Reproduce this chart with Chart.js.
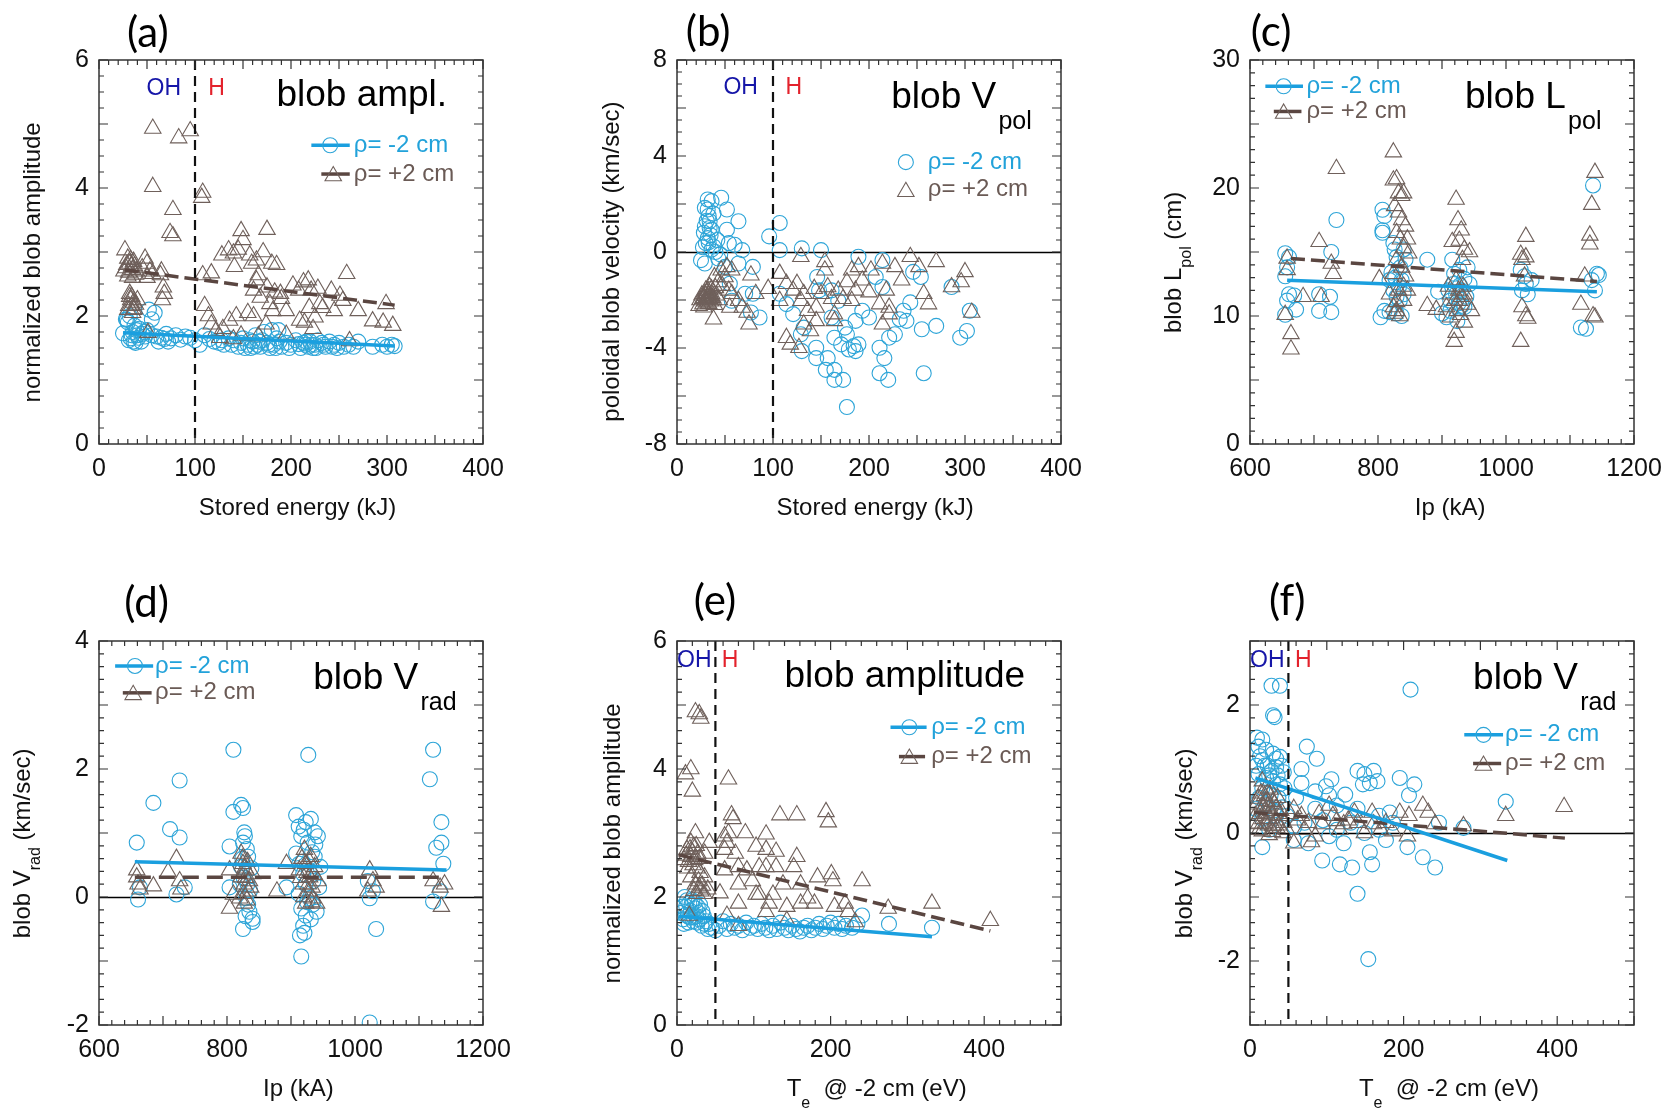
<!doctype html>
<html lang="en">
<head>
<meta charset="utf-8">
<title>Blob statistics</title>
<script src="https://cdn.jsdelivr.net/npm/chart.js"></script>
<style>
  html, body { margin: 0; padding: 0; background: #fff; }
  body { width: 1665px; height: 1111px; position: relative; overflow: hidden; }
  canvas { position: absolute; }
</style>
</head>
<body>
<canvas id="pa" width="519" height="544" style="left:4px;top:0px"></canvas>
<canvas id="pb" width="519" height="544" style="left:582px;top:0px"></canvas>
<canvas id="pc" width="519" height="544" style="left:1155px;top:0px"></canvas>
<canvas id="pd" width="519" height="544" style="left:4px;top:581px"></canvas>
<canvas id="pe" width="519" height="544" style="left:582px;top:581px"></canvas>
<canvas id="pf" width="519" height="544" style="left:1155px;top:581px"></canvas>
<script>
// ---- tick labels ----
const energyTicks = [0, 100, 200, 300, 400];
const ipTicks = [600, 800, 1000, 1200];
const teTicks = [0, 200, 400];
const amplTicks = [0, 2, 4, 6];
const vpolTicks = [-8, -4, 0, 4, 8];
const lpolTicks = [0, 10, 20, 30];
const vradTicksD = [-2, 0, 2, 4];
const vradTicksF = [-2, 0, 2];

// ---- (a) amplitude vs stored energy ----
const aMinus = [[25,1.73],[28,1.95],[29,1.94],[30,1.9],[32,2.0],[33,1.65],[35,1.75],[36,1.6],[37,1.85],[40,1.7],[42,1.8],
  [45,1.72],[48,1.68],[50,1.78],[52,2.1],[55,1.95],[58,2.05],[55,1.7],[60,1.68],[65,1.66],[70,1.72],[75,1.65],
  [80,1.7],[85,1.63],[90,1.68],[95,1.66],[100,1.62],[105,1.55],[110,1.7],[115,1.64],[120,1.6],[125,1.58],
  [130,1.55],[135,1.65],[140,1.62],[145,1.52],[148,1.58],[150,1.65],[155,1.55],[158,1.5],[160,1.6],[163,1.7],
  [165,1.55],[168,1.52],[170,1.62],[172,1.75],[175,1.58],[178,1.5],[180,1.78],[182,1.55],[185,1.65],[187,1.78],[188,1.6],
  [190,1.52],[195,1.58],[200,1.55],[205,1.62],[210,1.5],[213,1.58],[215,1.55],[218,1.52],[220,1.6],[223,1.5],
  [225,1.55],[228,1.62],[232,1.58],[236,1.52],[240,1.6],[245,1.55],[250,1.58],[255,1.52],[260,1.55],[265,1.52],
  [270,1.6],[285,1.52],[295,1.55],[300,1.52],[305,1.55],[308,1.53],
  [31,1.62],[34,1.7],[38,1.58],[39,1.78],[41,1.66],[44,1.6],[47,1.75],[62,1.6],[68,1.64],[72,1.6],
  [128,1.62],[138,1.55],[152,1.5],[157,1.62],[162,1.52],[167,1.6],[177,1.55],[184,1.5],[198,1.5],[208,1.56],
  [216,1.6],[221,1.55],[226,1.5],[234,1.55],[243,1.52],[248,1.5]];
const aPlus = [[56,4.93],[95,4.89],[83,4.78],[56,4.02],[108,3.93],[107,3.85],[77,3.66],[74,3.3],[77,3.25],[148,3.33],[175,3.35],
  [27,3.03],[30,2.9],[32,2.82],[34,2.78],[36,2.85],[29,2.8],[26,2.7],[31,2.68],[35,2.72],[38,2.65],
  [48,2.9],[50,2.82],[53,2.7],[56,2.66],[64,2.64],[65,2.7],[66,2.25],[67,2.45],[68,2.35],[50,2.6],[45,2.75],
  [32,2.35],[36,2.21],[34,2.16],[37,2.11],[31,2.16],[33,2.25],[35,2.05],[51,1.74],
  [108,2.64],[117,2.67],[128,2.95],[135,3.03],[140,2.98],[145,3.04],[141,2.77],[150,3.19],[157,2.95],[159,2.82],
  [164,2.87],[171,3.0],[180,2.82],[185,2.8],[164,2.56],[161,2.4],[166,2.64],[168,2.29],[175,2.45],[178,2.19],
  [183,2.37],[190,2.27],[195,2.08],[202,2.48],[208,2.4],[213,2.53],[218,2.56],[221,2.4],[228,2.43],[233,2.13],
  [242,2.4],[245,2.08],[258,2.66],[251,2.32],[254,2.24],[270,2.08],[285,1.92],[296,1.9],[299,2.19],[306,1.85],[261,1.61],
  [110,2.16],[114,2.0],[117,1.87],[122,1.77],[129,1.8],[136,1.93],[143,2.0],[148,1.7],[155,2.05],[161,2.0],
  [166,1.69],[174,1.87],[181,2.08],[189,2.35],[195,1.71],[209,1.93],[214,1.9],[219,2.13],[225,1.98],[230,2.19],
  [223,1.8],[126,1.66],[140,1.64],
  [28,2.75],[30,2.62],[33,2.88],[35,2.6],[37,2.78],[39,2.7],[32,2.3],[34,2.3],[36,2.1],[38,2.18],[30,2.1],[40,2.25]];
const aMinusFit = [[25,1.74],[308,1.53]];
const aPlusFit = [[27,2.72],[308,2.17]];

// ---- (b) poloidal velocity vs stored energy ----
const bMinus = [[32,2.19],[36,2.12],[46,2.26],[29,1.84],[32,1.77],[52,1.77],[34,1.28],[29,1.07],[36,0.93],[52,0.93],
  [64,1.28],[32,0.58],[30,0.37],[38,0.23],[54,0.37],[68,0.08],[25,-0.34],[29,-0.48],[43,-0.27],[50,-0.62],
  [64,-0.48],[79,-0.62],[55,-1.32],[57,-2.03],[71,-1.74],[79,-1.74],[86,-2.73],[77,-2.52],[96,0.65],[107,1.21],
  [107,0.08],[130,0.15],[150,0.08],[189,-0.2],[214,-0.34],[246,-0.83],[254,-1.04],[286,-1.46],[305,-2.45],[302,-3.29],
  [295,-3.57],[270,-3.08],[255,-3.22],[257,-5.05],[243,-2.1],[232,-2.8],[227,-3.43],[221,-3.57],[211,-3.99],[216,-4.42],
  [211,-5.05],[220,-5.33],[200,-2.73],[177,-6.46],[173,-5.33],[164,-5.33],[164,-4.91],[155,-4.91],[157,-4.42],[145,-4.42],
  [145,-3.99],[130,-4.13],[129,-3.43],[132,-3.15],[121,-2.59],[114,-2.17],[146,-1.04],[148,-1.6],[161,-2.73],[164,-3.57],
  [171,-3.85],[179,-4.06],[184,-3.92],[186,-4.13],[177,-3.43],[186,-2.87],[193,-2.45],[207,-1.04],[214,-1.46],[236,-2.45],
  [239,-2.87],[161,-1.6],[168,-2.03],[175,-3.15],[189,-3.85],[107,-1.74],[33,1.5],[35,0.7],[40,0.0],[45,-0.1],[60,0.3],
  [31,1.3],[34,1.0],[33,0.4],[36,0.1],[28,0.8],[38,1.6],[42,0.5],[27,0.2]];
const bPlus = [[29,-1.74],[30,-1.6],[32,-1.88],[34,-1.46],[36,-1.74],[27,-2.17],[23,-2.24],[32,-2.1],[38,-2.8],[39,-1.04],
  [43,-1.25],[46,-0.76],[50,-1.04],[54,-1.6],[57,-1.74],[57,-0.76],[52,-0.62],[64,-2.03],[55,-2.31],[68,-2.31],
  [73,-2.52],[77,-0.97],[82,-1.74],[75,-3.01],[95,-1.53],[107,-0.9],[107,-2.03],[114,-1.32],[121,-1.6],[129,-0.2],
  [125,-1.32],[129,-2.03],[132,-1.74],[136,-2.45],[132,-3.01],[139,-3.29],[143,-1.53],[150,-1.74],[145,-2.31],[154,-0.41],
  [154,-0.76],[157,-1.46],[161,-1.95],[164,-2.59],[168,-1.6],[173,-1.95],[177,-1.25],[182,-0.76],[186,-1.6],[189,-0.62],
  [193,-1.18],[202,-0.76],[200,-1.67],[211,-2.17],[214,-0.48],[218,-1.6],[221,-2.31],[227,-0.62],[234,-1.18],[243,-0.2],
  [252,-0.62],[257,-1.74],[262,-2.17],[270,-0.41],[286,-1.46],[300,-0.83],[296,-1.25],[307,-2.52],[114,-3.57],[118,-3.85],
  [127,-3.99],[145,-2.87],[164,-2.87],[182,-2.03],[214,-3.01],[221,-2.59],[28,-1.9],[31,-2.0],[33,-1.8],[35,-2.05],
  [30,-1.95],[37,-1.9],[26,-1.8],[40,-1.5],
  [29,-2.05],[31,-1.7],[33,-2.15],[34,-1.95],[36,-1.55],[38,-2.0],[27,-1.95],[30,-1.82],[32,-1.62],[35,-1.85],
  [28,-2.3],[41,-1.8],[44,-2.0],[47,-1.4],[24,-2.0],[39,-2.2]];

// ---- (c) poloidal size vs plasma current ----
const cMinus = [[655,14.9],[661,14.6],[658,13.8],[655,13.1],[661,11.7],[658,11.2],[655,10.1],[672,10.5],[669,11.6],[708,11.7],
  [725,11.5],[708,10.4],[727,10.3],[727,15.0],[735,17.5],[807,18.3],[807,16.7],[810,17.8],[807,16.5],[804,9.9],
  [810,10.4],[818,10.3],[824,15.7],[826,15.2],[829,14.6],[840,15.2],[835,13.8],[837,12.8],[818,12.8],[824,12.0],
  [829,11.5],[834,11.2],[840,11.7],[829,10.2],[837,10.0],[821,13.4],[843,14.4],[877,14.4],[894,11.9],[900,10.2],
  [907,9.9],[913,10.4],[916,14.4],[919,13.3],[927,13.6],[935,12.9],[913,11.2],[922,11.7],[930,12.0],[938,11.5],
  [943,12.5],[935,10.7],[924,9.6],[910,12.0],[940,13.8],[1023,13.6],[1029,13.1],[1031,12.5],[1025,12.0],[1034,11.7],
  [1040,12.8],[1117,9.1],[1125,9.0],[1136,20.2],[1142,13.3],[1134,12.8],[1139,12.0],[1145,13.2],
  [926,11.0],[931,10.8],[918,12.5],[928,12.4],[833,12.3],[827,13.0]];
const cPlus = [[658,14.5],[658,13.6],[655,10.1],[664,8.6],[664,7.4],[683,11.5],[708,15.8],[711,11.5],[727,14.1],[730,13.3],
  [735,21.5],[824,22.8],[824,20.6],[829,20.7],[832,19.6],[837,19.4],[826,18.6],[832,18.1],[837,17.5],[843,17.0],
  [829,16.5],[835,16.0],[840,15.3],[829,14.4],[837,13.8],[824,13.3],[802,12.9],[818,11.7],[824,10.7],[829,11.1],
  [829,10.4],[840,11.2],[832,12.0],[840,12.3],[846,12.0],[843,13.1],[848,14.9],[846,16.0],[840,19.6],[877,10.8],
  [891,10.5],[922,19.1],[925,17.5],[930,16.7],[927,15.9],[916,15.8],[935,15.2],[943,15.0],[932,14.4],[922,12.8],
  [910,12.3],[913,11.7],[927,11.2],[935,11.7],[940,10.9],[946,10.4],[907,10.7],[913,9.9],[922,8.7],[919,8.0],
  [935,9.5],[1031,16.2],[1023,14.8],[1025,14.4],[1031,14.6],[1029,13.1],[1025,10.7],[1031,10.0],[1034,9.8],[1023,8.0],
  [1117,10.9],[1123,13.1],[1131,15.6],[1131,16.3],[1134,18.7],[1139,21.2],[1136,10.0],[1139,9.9],
  [926,12.0],[930,11.5],[920,11.2],[933,12.3],[924,10.4],[929,10.1],[834,10.0],[826,10.2]];
const cMinusFit = [[658,12.8],[1142,11.9]];
const cPlusFit = [[664,14.5],[1142,12.7]];

// ---- (d) radial velocity vs plasma current ----
const dMinus = [[659,0.85],[661,-0.04],[664,0.15],[685,1.47],[711,1.06],[726,0.93],[726,1.82],[721,0.04],[734,0.15],[810,2.3],
  [810,1.33],[804,0.79],[822,1.44],[825,1.39],[827,1.01],[825,0.85],[833,0.63],[822,0.47],[820,0.2],[830,-0.02],
  [835,-0.23],[840,-0.34],[825,-0.5],[833,-0.12],[840,-0.39],[804,0.15],[893,0.15],[908,1.28],[916,0.95],[923,1.17],
  [931,1.22],[937,1.01],[942,0.95],[927,2.22],[908,0.68],[913,0.52],[919,0.36],[923,0.2],[929,-0.02],[916,-0.18],
  [919,-0.45],[921,-0.56],[916,-0.93],[934,-0.12],[940,-0.23],[923,-0.29],[937,0.63],[946,0.47],[1023,-1.96],[1033,-0.5],
  [1023,-0.02],[1028,0.09],[1020,0.25],[1122,2.3],[1117,1.84],[1135,1.17],[1135,0.85],[1127,0.77],[1138,0.52],[1122,-0.07],
  [1133,0.09],
  [828,0.95],[831,0.75],[826,0.3],[836,0.1],[829,-0.3],[838,0.45],[824,0.6],[832,0.2],
  [912,1.1],[926,0.85],[933,0.7],[918,0.55],[928,0.4],[935,0.25],[912,0.05],[925,-0.08],[931,-0.35],[914,-0.6],
  [938,0.82],[944,0.15],[920,1.05]];
const dPlus = [[659,0.42],[659,0.31],[661,0.2],[664,0.12],[685,0.17],[708,0.39],[721,0.6],[726,0.25],[728,0.12],[804,0.42],
  [804,-0.18],[810,0.04],[822,0.68],[825,0.52],[830,0.42],[822,0.31],[827,0.2],[833,0.09],[820,-0.02],[827,-0.1],
  [840,0.36],[837,0.15],[878,0.09],[893,0.52],[913,0.42],[921,0.74],[923,0.52],[931,0.63],[937,0.47],[929,0.31],
  [919,0.2],[927,0.09],[934,-0.02],[923,-0.1],[940,-0.1],[942,0.25],[1023,0.42],[1028,0.25],[1020,0.09],[1033,0.15],
  [1122,0.25],[1133,0.15],[1140,0.2],[1135,-0.15],
  [824,0.6],[829,0.3],[832,0.55],[826,0.05],[835,0.25],[828,0.45],[831,-0.05],
  [917,0.6],[925,0.38],[933,0.15],[920,0.0],[929,0.55],[936,0.35],[915,0.3],[927,0.2],[932,-0.08]];
const dMinusFit = [[656,0.55],[1143,0.42]];
const dPlusFit = [[656,0.31],[1143,0.31]];

// ---- (e) amplitude vs Te ----
const eMinus = [[5,1.75],[8,1.65],[10,2.0],[12,1.85],[14,1.7],[16,1.9],[18,1.78],[20,1.95],[22,1.68],[24,1.82],
  [26,1.6],[28,1.75],[30,1.88],[32,1.55],[35,1.7],[38,1.62],[40,1.5],[42,1.58],[45,1.52],[50,1.48],
  [55,1.55],[60,1.62],[65,1.5],[70,1.58],[75,1.52],[80,1.55],[85,1.48],[90,1.6],[95,1.52],[100,1.55],
  [105,1.5],[110,1.58],[115,1.52],[120,1.48],[125,1.55],[130,1.5],[135,1.6],[140,1.52],[145,1.48],[150,1.55],
  [155,1.5],[160,1.46],[165,1.52],[170,1.55],[175,1.48],[180,1.52],[185,1.58],[190,1.5],[195,1.55],[200,1.6],
  [205,1.52],[210,1.58],[215,1.5],[220,1.55],[228,1.52],[235,1.58],[241,1.71],[276,1.58],[332,1.52],
  [7,1.85],[11,1.72],[15,1.6],[19,1.88],[21,1.62],[23,1.92],[25,1.7],[27,1.85],[29,1.65],[33,1.78],
  [36,1.58],[13,1.95],[17,1.68],[9,1.58]];
const ePlus = [[24,4.89],[29,4.86],[31,4.79],[11,3.92],[18,4.0],[20,3.65],[67,3.84],[71,3.28],[73,3.22],[134,3.28],
  [156,3.28],[194,3.33],[197,3.17],[24,3.0],[18,2.85],[22,2.79],[13,2.74],[27,2.68],[18,2.63],[9,2.58],
  [29,2.6],[36,2.68],[42,2.85],[62,2.95],[67,3.0],[65,2.85],[89,3.0],[103,2.79],[116,2.98],[116,2.74],
  [129,2.71],[156,2.63],[62,2.74],[76,2.68],[62,2.42],[80,2.47],[91,2.42],[107,2.47],[116,2.47],[129,2.47],
  [152,2.47],[80,2.2],[98,2.25],[107,2.04],[125,2.04],[138,2.2],[161,2.2],[183,2.31],[201,2.36],[203,2.25],
  [241,2.25],[18,2.31],[24,2.2],[29,2.15],[36,2.31],[40,2.12],[31,2.09],[56,2.06],[103,2.04],[80,1.9],
  [120,1.9],[143,1.85],[161,1.9],[170,1.98],[179,1.9],[205,1.85],[219,1.9],[223,1.77],[232,1.61],[275,1.82],
  [332,1.9],[408,1.63],[16,1.71],[65,1.71],[80,1.55],[143,1.63],[116,1.77],
  [12,2.65],[15,2.55],[17,2.75],[20,2.7],[23,2.58],[25,2.8],[14,2.45],[21,2.5],[26,2.45],[30,2.38],
  [28,2.25],[33,2.18],[26,2.05],[35,2.05],[22,2.1]];
const eMinusFit = [[2,1.7],[332,1.38]];
const ePlusFit = [[2,2.66],[408,1.47]];

// ---- (f) radial velocity vs Te ----
const fMinus = [[28,2.3],[39,2.3],[30,1.84],[32,1.81],[9,1.49],[16,1.46],[11,1.35],[21,1.3],[30,1.24],[34,1.16],
  [39,1.19],[16,1.14],[23,1.05],[28,0.97],[34,1.03],[41,1.05],[11,0.92],[21,0.86],[30,0.81],[39,0.76],
  [16,0.7],[74,1.35],[87,1.16],[67,1.0],[67,0.78],[99,0.73],[106,0.84],[103,0.59],[140,0.97],[147,0.76],
  [149,0.92],[161,0.97],[166,0.81],[156,0.78],[195,0.86],[214,0.76],[207,0.59],[209,2.24],[333,0.49],[278,0.08],
  [85,0.38],[113,0.43],[140,0.38],[168,0.27],[182,0.32],[7,0.38],[16,0.22],[25,0.05],[34,0.27],[57,-0.11],
  [76,-0.16],[94,-0.43],[117,-0.49],[133,-0.54],[159,-0.49],[156,-0.3],[177,-0.11],[205,-0.22],[225,-0.38],[241,-0.54],
  [140,-0.95],[154,-1.97],[16,-0.22],[103,-0.05],[122,-0.16],[149,0.0],[168,0.05],[186,0.16],[131,0.16],[113,0.05],
  [71,0.16],[48,0.27],[246,0.16],
  [13,1.2],[19,1.05],[25,0.9],[36,0.9],[44,0.95],[8,1.05],[27,0.6],[37,0.55],[12,0.55],[45,0.7],
  [20,0.45],[31,0.35],[42,0.4],[60,0.55],[85,0.65],[95,0.2],[124,0.6],[58,0.1]];
const fPlus = [[16,0.81],[21,0.7],[25,0.59],[11,0.54],[16,0.43],[30,0.49],[34,0.38],[21,0.32],[7,0.27],[25,0.22],
  [39,0.27],[11,0.14],[30,0.11],[16,0.03],[25,-0.03],[44,0.16],[57,0.38],[67,0.27],[76,0.16],[57,-0.16],
  [80,-0.14],[85,-0.05],[103,0.43],[108,0.27],[122,0.14],[136,0.32],[140,0.16],[159,0.32],[161,0.14],[177,0.16],
  [186,0.03],[195,0.32],[207,0.27],[205,-0.05],[225,0.43],[232,0.32],[241,0.14],[278,0.11],[333,0.27],[409,0.41],
  [94,0.14],[117,0.05],[149,0.0],[71,0.05],[48,0.05],[113,0.19],[18,0.4],[22,0.5],[27,0.35],[13,0.3],
  [33,0.2],[20,0.15],[9,0.45],[36,0.55],
  [14,0.62],[19,0.58],[23,0.42],[28,0.28],[32,0.45],[17,0.22],[24,0.12],[29,0.02],[35,0.08],[40,0.35],
  [12,0.05],[6,0.15],[43,0.0],[26,0.68],[38,0.12],[62,0.2],[90,0.3],[128,0.2],[170,0.05],[52,0.3]];
const fMinusFit = [[7,0.86],[335,-0.43]];
const fPlusFit = [[5,0.32],[410,-0.08]];

// ---- styling ----
const FONT = "'Liberation Sans', Arial, sans-serif";
const CYAN = '#2ea5d8';
const CYAN_LINE = '#1a9fdf';
const BROWN = '#6f605b';
const BROWN_LINE = '#5a4641';
const OH_BLUE = '#1616a8';
const H_RED = '#e3222c';

Chart.defaults.font.family = FONT;

const toPts = arr => arr.map(([x, y]) => ({x, y}));

function partsWidth(ctx, parts) {
  let w = 0;
  for (const p of parts) {
    ctx.font = p[1] + 'px ' + FONT;
    w += ctx.measureText(p[0]).width;
  }
  return w;
}

function drawParts(ctx, parts, x, y, color) {
  let cx = x;
  for (const p of parts) {
    ctx.font = p[1] + 'px ' + FONT;
    ctx.fillStyle = color || '#000';
    ctx.fillText(p[0], cx, y + p[2]);
    cx += ctx.measureText(p[0]).width;
  }
}

function drawTri(ctx, x, y, r) {
  ctx.beginPath();
  ctx.moveTo(x, y - r);
  ctx.lineTo(x + r * Math.sin(2 * Math.PI / 3), y - r * Math.cos(2 * Math.PI / 3));
  ctx.lineTo(x + r * Math.sin(4 * Math.PI / 3), y - r * Math.cos(4 * Math.PI / 3));
  ctx.closePath();
  ctx.stroke();
}

function tickValues(min, max, step) {
  const n = Math.round((max - min) / step);
  const out = [];
  for (let i = 0; i <= n; i++) out.push(min + i * step);
  return out;
}

const deco = {
  id: 'deco',
  beforeDatasetsDraw(chart, args, o) {
    const {ctx, chartArea: a, scales: {x, y}} = chart;
    if (o.zero) {
      const py = Math.round(y.getPixelForValue(0)) + 0.5;
      ctx.save();
      ctx.strokeStyle = '#000';
      ctx.lineWidth = 1.3;
      ctx.beginPath();
      ctx.moveTo(a.left, py);
      ctx.lineTo(a.right, py);
      ctx.stroke();
      ctx.restore();
    }
  },
  afterDatasetsDraw(chart, args, o) {
    const {ctx, chartArea: a, scales: {x, y}} = chart;
    const W = a.width, H = a.height;
    ctx.save();

    // OH / H boundary
    if (o.boundary != null) {
      const px = x.getPixelForValue(o.boundary);
      ctx.strokeStyle = '#111';
      ctx.lineWidth = 2.2;
      ctx.setLineDash([10, 6]);
      ctx.beginPath();
      ctx.moveTo(px, a.top);
      ctx.lineTo(px, a.bottom);
      ctx.stroke();
      ctx.setLineDash([]);
    }

    // frame and inward ticks
    ctx.strokeStyle = '#333';
    ctx.lineWidth = 1.5;
    ctx.strokeRect(a.left, a.top, W, H);
    ctx.lineWidth = 1.2;
    ctx.beginPath();
    for (const v of tickValues(x.min, x.max, o.xMinor)) {
      const px = x.getPixelForValue(v);
      const major = Math.abs(v / o.xMajor - Math.round(v / o.xMajor)) < 1e-6;
      const len = major ? 9 : 5;
      ctx.moveTo(px, a.bottom); ctx.lineTo(px, a.bottom - len);
      ctx.moveTo(px, a.top); ctx.lineTo(px, a.top + len);
    }
    for (const v of tickValues(y.min, y.max, o.yMinor)) {
      const py = y.getPixelForValue(v);
      const major = Math.abs(v / o.yMajor - Math.round(v / o.yMajor)) < 1e-6;
      const len = major ? 9 : 5;
      ctx.moveTo(a.left, py); ctx.lineTo(a.left + len, py);
      ctx.moveTo(a.right, py); ctx.lineTo(a.right - len, py);
    }
    ctx.stroke();

    // panel letter
    ctx.textBaseline = 'middle';
    ctx.textAlign = 'center';
    ctx.fillStyle = '#000';
    ctx.font = "42px Lato, 'Open Sans', sans-serif";
    ctx.fillText(o.label[0], a.left + o.label[1] * W, a.top + o.label[2] * H);

    // OH / H tags
    ctx.textAlign = 'left';
    ctx.textBaseline = 'alphabetic';
    if (o.oh) {
      ctx.font = '23px ' + FONT;
      ctx.fillStyle = OH_BLUE;
      ctx.fillText('OH', a.left + o.oh[0] * W, a.top + o.oh[2] * H);
      ctx.fillStyle = H_RED;
      ctx.fillText('H', a.left + o.oh[1] * W, a.top + o.oh[2] * H);
    }

    // in-plot title
    drawParts(ctx, o.title.parts, a.left + o.title.fx * W, a.top + o.title.fy * H, '#000');

    // legend
    ctx.textBaseline = 'middle';
    o.legend.forEach((r, i) => {
      const ly = a.top + r.fy * H;
      const isMinus = i === 0;
      if (r.x0 != null) {
        ctx.strokeStyle = isMinus ? CYAN_LINE : BROWN_LINE;
        ctx.lineWidth = 3.5;
        ctx.beginPath();
        ctx.moveTo(a.left + r.x0 * W, ly);
        ctx.lineTo(a.left + r.x1 * W, ly);
        ctx.stroke();
      }
      ctx.lineWidth = 1.1;
      if (isMinus) {
        ctx.strokeStyle = CYAN;
        ctx.beginPath();
        ctx.arc(a.left + r.mx * W, ly, 7.5, 0, Math.PI * 2);
        ctx.stroke();
      } else {
        ctx.strokeStyle = BROWN;
        drawTri(ctx, a.left + r.mx * W, ly + 2, 9.5);
      }
      ctx.font = '24px ' + FONT;
      ctx.fillStyle = isMinus ? '#22a2da' : '#6a5a55';
      ctx.fillText(isMinus ? '\u03c1= -2 cm' : '\u03c1= +2 cm', a.left + r.tx * W, ly);
    });

    // axis titles
    ctx.textBaseline = 'middle';
    const xw = partsWidth(ctx, o.xTitle);
    drawParts(ctx, o.xTitle, a.left + o.xTitleFx * W - xw / 2, a.bottom + 64, '#111');
    ctx.save();
    ctx.translate(a.left - o.yTitleOff, a.top + o.yTitleFy * H);
    ctx.rotate(-Math.PI / 2);
    const yw = partsWidth(ctx, o.yTitle);
    drawParts(ctx, o.yTitle, -yw / 2, 0, '#111');
    ctx.restore();

    ctx.restore();
  }
};

function makePanel(id, c) {
  const tickFont = {family: FONT, size: 25};
  new Chart(document.getElementById(id), {
    type: 'scatter',
    data: {
      datasets: [
        {data: toPts(c.minusFit || []), showLine: true, pointRadius: 0, borderColor: CYAN_LINE, borderWidth: 3.5},
        {data: toPts(c.plusFit || []), showLine: true, pointRadius: 0, borderColor: BROWN_LINE, borderWidth: 3.5, borderDash: c.dash || [14, 6]},
        {data: toPts(c.plus), pointStyle: 'triangle', pointRadius: 9.5, borderColor: BROWN, backgroundColor: 'rgba(0,0,0,0)', borderWidth: 1.1},
        {data: toPts(c.minus), pointStyle: 'circle', pointRadius: 7.5, borderColor: CYAN, backgroundColor: 'rgba(0,0,0,0)', borderWidth: 1.1}
      ]
    },
    options: {
      responsive: false,
      animation: false,
      devicePixelRatio: 1,
      layout: {padding: {top: 60, right: 40, left: 0, bottom: 20}},
      plugins: {
        legend: {display: false},
        tooltip: {enabled: false},
        deco: c.deco
      },
      scales: {
        x: {
          type: 'linear', min: c.xRange[0], max: c.xRange[1],
          grid: {display: false, drawTicks: false}, border: {display: false},
          ticks: {font: tickFont, color: '#111', padding: 10, maxRotation: 0, callback: v => String(v)},
          afterBuildTicks: s => { s.ticks = c.xTicks.map(v => ({value: v})); },
          afterFit: s => { s.height = 80; }
        },
        y: {
          type: 'linear', min: c.yRange[0], max: c.yRange[1],
          grid: {display: false, drawTicks: false}, border: {display: false},
          ticks: {font: tickFont, color: '#111', padding: 10, callback: v => String(v)},
          afterBuildTicks: s => { s.ticks = c.yTicks.map(v => ({value: v})); },
          afterFit: s => { s.width = 95; }
        }
      }
    },
    plugins: [deco]
  });
}

const amplTitle = [['normalized blob amplitude', 24, 0]];
const energyTitle = [['Stored energy (kJ)', 24, 0]];
const ipTitle = [['Ip (kA)', 24, 0]];
const teTitle = [['T', 24, 0], ['e', 16, 15], ['  @ -2 cm (eV)', 24, 0]];
const vradTitle = [['blob V', 24, 0], ['rad', 16, 13], [' (km/sec)', 24, 0]];

makePanel('pa', {
  xRange: [0, 400], yRange: [0, 6], xTicks: energyTicks, yTicks: amplTicks,
  minus: aMinus, plus: aPlus, minusFit: aMinusFit, plusFit: aPlusFit,
  deco: {
    xMinor: 10, xMajor: 50, yMinor: 0.25, yMajor: 1, boundary: 100,
    label: ['(a)', 0.127, -0.069], oh: [0.124, 0.2845, 0.0905],
    title: {fx: 0.462, fy: 0.1186, parts: [['blob ampl.', 37, 0]]},
    legend: [{fy: 0.222, x0: 0.553, x1: 0.653, mx: 0.602, tx: 0.6635},
             {fy: 0.297, x0: 0.579, x1: 0.653, mx: 0.61, tx: 0.6635}],
    yTitle: amplTitle, yTitleOff: 66, yTitleFy: 0.527,
    xTitle: energyTitle, xTitleFx: 0.517
  }
});

makePanel('pb', {
  xRange: [0, 400], yRange: [-8, 8], xTicks: energyTicks, yTicks: vpolTicks,
  minus: bMinus, plus: bPlus,
  deco: {
    xMinor: 10, xMajor: 50, yMinor: 0.5, yMajor: 2, boundary: 100, zero: true,
    label: ['(b)', 0.081, -0.071], oh: [0.121, 0.2825, 0.088],
    title: {fx: 0.558, fy: 0.124, parts: [['blob V', 37, 0], [' ', 8, 0], ['pol', 25, 21]]},
    legend: [{fy: 0.266, mx: 0.596, tx: 0.653}, {fy: 0.338, mx: 0.596, tx: 0.653}],
    yTitle: [['poloidal blob velocity (km/sec)', 24, 0]], yTitleOff: 65, yTitleFy: 0.525,
    xTitle: energyTitle, xTitleFx: 0.516
  }
});

makePanel('pc', {
  xRange: [600, 1200], yRange: [0, 30], xTicks: ipTicks, yTicks: lpolTicks,
  minus: cMinus, plus: cPlus, minusFit: cMinusFit, plusFit: cPlusFit,
  deco: {
    xMinor: 20, xMajor: 100, yMinor: 1, yMajor: 5,
    label: ['(c)', 0.055, -0.071],
    title: {fx: 0.56, fy: 0.124, parts: [['blob L', 37, 0], [' ', 8, 0], ['pol', 25, 21]]},
    legend: [{fy: 0.0685, x0: 0.040, x1: 0.138, mx: 0.0876, tx: 0.147},
             {fy: 0.134, x0: 0.062, x1: 0.134, mx: 0.0876, tx: 0.147}],
    yTitle: [['blob L', 24, 0], ['pol', 16, 13], [' (cm)', 24, 0]], yTitleOff: 76, yTitleFy: 0.527,
    xTitle: ipTitle, xTitleFx: 0.521
  }
});

makePanel('pd', {
  xRange: [600, 1200], yRange: [-2, 4], xTicks: ipTicks, yTicks: vradTicksD,
  minus: dMinus, plus: dPlus, minusFit: dMinusFit, plusFit: dPlusFit, dash: [16, 8],
  deco: {
    xMinor: 20, xMajor: 100, yMinor: 0.2, yMajor: 1, zero: true,
    label: ['(d)', 0.124, -0.098],
    title: {fx: 0.558, fy: 0.126, parts: [['blob V', 37, 0], [' ', 8, 0], ['rad', 25, 21]]},
    legend: [{fy: 0.065, x0: 0.042, x1: 0.141, mx: 0.0937, tx: 0.146},
             {fy: 0.135, x0: 0.062, x1: 0.137, mx: 0.089, tx: 0.146}],
    yTitle: vradTitle, yTitleOff: 76, yTitleFy: 0.527,
    xTitle: ipTitle, xTitleFx: 0.519
  }
});

makePanel('pe', {
  xRange: [0, 500], yRange: [0, 6], xTicks: teTicks, yTicks: amplTicks,
  minus: eMinus, plus: ePlus, minusFit: eMinusFit, plusFit: ePlusFit,
  deco: {
    xMinor: 20, xMajor: 100, yMinor: 0.2, yMajor: 1, boundary: 50,
    label: ['(e)', 0.099, -0.103], oh: [0.0, 0.1166, 0.069],
    title: {fx: 0.28, fy: 0.121, parts: [['blob amplitude', 37, 0]]},
    legend: [{fy: 0.2246, x0: 0.556, x1: 0.650, mx: 0.605, tx: 0.662},
             {fy: 0.301, x0: 0.578, x1: 0.646, mx: 0.605, tx: 0.662}],
    yTitle: amplTitle, yTitleOff: 64, yTitleFy: 0.527,
    xTitle: teTitle, xTitleFx: 0.52
  }
});

makePanel('pf', {
  xRange: [0, 500], yRange: [-3, 3], xTicks: teTicks, yTicks: vradTicksF,
  minus: fMinus, plus: fPlus, minusFit: fMinusFit, plusFit: fPlusFit,
  deco: {
    xMinor: 20, xMajor: 100, yMinor: 0.2, yMajor: 1, boundary: 50, zero: true,
    label: ['(f)', 0.097, -0.103], oh: [0.0, 0.117, 0.069],
    title: {fx: 0.581, fy: 0.126, parts: [['blob V', 37, 0], [' ', 8, 0], ['rad', 25, 21]]},
    legend: [{fy: 0.2444, x0: 0.558, x1: 0.659, mx: 0.608, tx: 0.664},
             {fy: 0.319, x0: 0.581, x1: 0.654, mx: 0.608, tx: 0.664}],
    yTitle: vradTitle, yTitleOff: 65, yTitleFy: 0.527,
    xTitle: teTitle, xTitleFx: 0.518
  }
});
</script>
</body>
</html>
